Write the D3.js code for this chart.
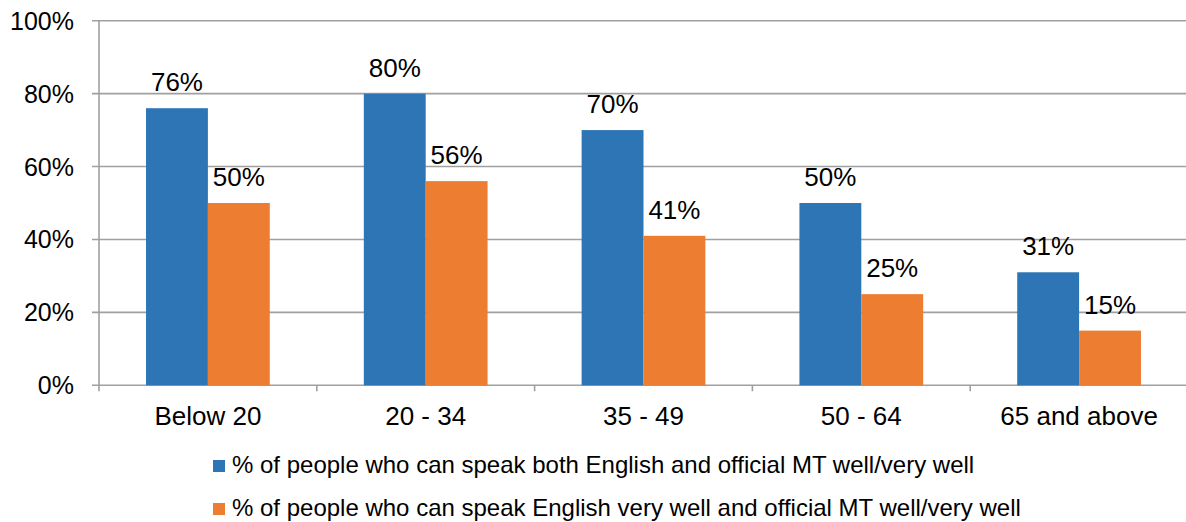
<!DOCTYPE html>
<html><head><meta charset="utf-8">
<script src="https://cdn.jsdelivr.net/npm/d3@7"></script>
<style>body{margin:0;background:#fff;} text{font-family:Arial,"Liberation Sans",sans-serif;fill:#000;}</style>
</head><body>
<svg id="c" width="1186" height="522"></svg>
<script>
const categories = ["Below 20", "20 - 34", "35 - 49", "50 - 64", "65 and above"];
const seriesNames = [
  "% of people who can speak both English and official MT well/very well",
  "% of people who can speak English very well and official MT well/very well"
];
const seriesBoth = [76, 80, 70, 50, 31];
const seriesEnglishVeryWell = [50, 56, 41, 25, 15];
const yTicks = [0, 20, 40, 60, 80, 100];
const colors = ["#2E75B6", "#ED7D31"];

(function () {
const svg = d3.select("#c");
const pLeft = 99, pRight = 1188, pTop = 20.7, pBottom = 385.3;
const x = d3.scaleBand().domain(categories).range([pLeft, pRight]).paddingInner(0).paddingOuter(0);
const inner = d3.scaleBand().domain([0, 1]).range([0, x.bandwidth()]).paddingInner(0).paddingOuter(0.76);
const y = d3.scaleLinear().domain([0, 100]).range([pBottom, pTop]);

// gridlines
svg.append("g").selectAll("line").data(yTicks).join("line")
  .attr("x1", pLeft - 7).attr("x2", pRight).attr("y1", d => y(d)).attr("y2", d => y(d))
  .attr("stroke", "#a0a0a0").attr("stroke-width", 1.6);
// y axis line
svg.append("line").attr("x1", pLeft).attr("x2", pLeft).attr("y1", pTop).attr("y2", pBottom + 6)
  .attr("stroke", "#a0a0a0").attr("stroke-width", 1.6);
// x category ticks
const bounds = categories.map(c => x(c)).concat([pRight]);
svg.append("g").selectAll("line").data(bounds.slice(1)).join("line")
  .attr("x1", d => d).attr("x2", d => d).attr("y1", pBottom).attr("y2", pBottom + 6)
  .attr("stroke", "#a0a0a0").attr("stroke-width", 1.6);

// y tick labels
svg.append("g").selectAll("text").data(yTicks).join("text")
  .attr("x", 74).attr("y", d => y(d) + 9).attr("text-anchor", "end")
  .style("font-size", "25px").text(d => d + "%");

const series = [seriesBoth, seriesEnglishVeryWell];
series.forEach((vals, si) => {
  const g = svg.append("g");
  g.selectAll("rect").data(vals).join("rect")
    .attr("x", (d, i) => x(categories[i]) + inner(si))
    .attr("width", inner.bandwidth())
    .attr("y", d => y(d)).attr("height", d => pBottom - y(d))
    .attr("fill", colors[si]);
  g.selectAll("text").data(vals).join("text")
    .attr("x", (d, i) => x(categories[i]) + inner(si) + inner.bandwidth() / 2)
    .attr("y", d => y(d) - 17).attr("text-anchor", "middle")
    .style("font-size", "26px").text(d => d + "%");
});

// category labels
svg.append("g").selectAll("text").data(categories).join("text")
  .attr("x", d => x(d) + x.bandwidth() / 2).attr("y", 425).attr("text-anchor", "middle")
  .style("font-size", "26px").text(d => d);

// legend
const lg = svg.append("g");
seriesNames.forEach((n, i) => {
  const yy = 460 + i * 43;
  lg.append("rect").attr("x", 213).attr("y", yy).attr("width", 12).attr("height", 12).attr("fill", colors[i]);
  lg.append("text").attr("x", 232).attr("y", yy + 13).style("font-size", "24px").text(n);
});
})();
</script>
</body></html>
